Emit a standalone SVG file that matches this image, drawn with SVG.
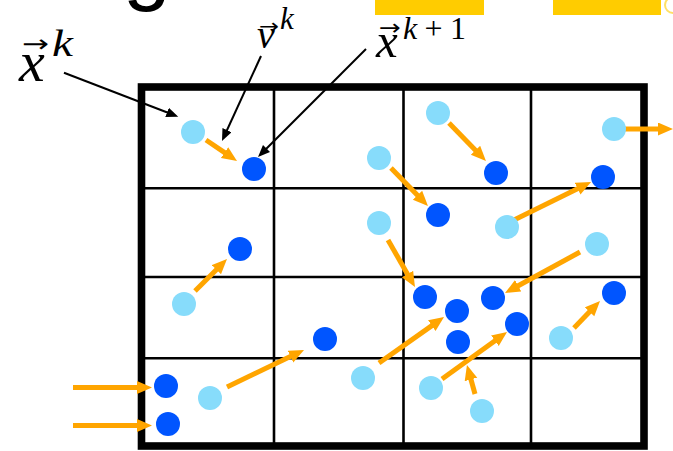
<svg xmlns="http://www.w3.org/2000/svg" width="673" height="451" viewBox="0 0 673 451">
<style>
.lt{fill:#87DCFB}
.dk{fill:#0055FF}
.or{stroke:#FFA500;stroke-width:5;fill:none}
.bk{stroke:#000;stroke-width:2;fill:none}
.grid{stroke:#000;stroke-width:2.6;fill:none}
.math{font-family:"Liberation Serif","DejaVu Serif",serif;font-style:italic;fill:#000}
.up{font-family:"Liberation Serif","DejaVu Serif",serif;font-style:normal;fill:#000}
.vec{font-family:"DejaVu Sans",sans-serif;fill:#000}
</style>
<defs>
<marker id="ho" markerUnits="userSpaceOnUse" markerWidth="16" markerHeight="14" refX="1" refY="6.5" orient="auto">
<path d="M0,0 L15,6.5 L0,13 z" fill="#FFA500"/>
</marker>
<marker id="hb" markerUnits="userSpaceOnUse" markerWidth="13" markerHeight="11" refX="1" refY="5" orient="auto">
<path d="M0,0 L12,5 L0,10 z" fill="#000"/>
</marker>
</defs>
<rect width="673" height="451" fill="#fff"/>
<g id="header">
<text x="123" y="-6" font-family="'Liberation Sans',Arial,sans-serif" font-size="86" fill="#000">g</text>
<rect x="375" y="0" width="109" height="15" fill="#FFCC00"/>
<rect x="553" y="0" width="108" height="15" fill="#FFCC00"/>
<circle cx="673" cy="5" r="8" fill="none" stroke="#FFE066" stroke-width="2"/>
</g>
<g id="grid">
<line class="grid" x1="274" y1="87" x2="274" y2="446"/>
<line class="grid" x1="403.5" y1="87" x2="403.5" y2="446"/>
<line class="grid" x1="531" y1="87" x2="531" y2="446"/>
<line class="grid" x1="141" y1="188.3" x2="644" y2="188.3"/>
<line class="grid" x1="141" y1="277" x2="644" y2="277"/>
<line class="grid" x1="141" y1="358.3" x2="644" y2="358.3"/>
<rect x="141.5" y="87" width="502.5" height="359" fill="none" stroke="#000" stroke-width="7.6"/>
</g>
<g id="labels">
<g id="label-xk">
<text class="math" x="19" y="81" font-size="58">x</text>
<text class="math" x="52" y="56" font-size="37" textLength="21" lengthAdjust="spacingAndGlyphs">k</text>
<text class="vec" x="22" y="52" font-size="24" textLength="27" lengthAdjust="spacingAndGlyphs">→</text>
</g>
<g id="label-vk">
<text class="math" x="257" y="48" font-size="40">v</text>
<text class="math" x="280" y="29" font-size="31">k</text>
<text class="vec" x="259" y="33" font-size="20" textLength="20" lengthAdjust="spacingAndGlyphs">→</text>
</g>
<g id="label-xk1">
<text class="math" x="376" y="57" font-size="49">x</text>
<text x="403" y="39" textLength="63" lengthAdjust="spacing"><tspan class="math" font-size="32">k</tspan><tspan class="up" font-size="32">+1</tspan></text>
<text class="vec" x="379" y="35" font-size="22" textLength="22" lengthAdjust="spacingAndGlyphs">→</text>
</g>
</g>
<g id="connectors">
<path class="bk" d="M64,72.7 L168,112.8" marker-end="url(#hb)"/>
<path class="bk" d="M261,56 L226.6,131" marker-end="url(#hb)"/>
<path class="bk" d="M366,49 L265.8,149.2" marker-end="url(#hb)"/>
<path class="or" d="M206,140 L225.4,153.1" marker-end="url(#ho)"/>
<path class="or" d="M391,168 L418.2,196" marker-end="url(#ho)"/>
<path class="or" d="M388,240 L408,274.9" marker-end="url(#ho)"/>
<path class="or" d="M449,123 L476.2,151" marker-end="url(#ho)"/>
<path class="or" d="M625,129 L659,129" marker-end="url(#ho)"/>
<path class="or" d="M514,220 L578.5,188.2" marker-end="url(#ho)"/>
<path class="or" d="M580,252 L517.3,286.3" marker-end="url(#ho)"/>
<path class="or" d="M195,291 L217.1,268.9" marker-end="url(#ho)"/>
<path class="or" d="M227,387 L291.4,356.1" marker-end="url(#ho)"/>
<path class="or" d="M379,363 L432.6,325.1" marker-end="url(#ho)"/>
<path class="or" d="M442,379 L495.7,340.2" marker-end="url(#ho)"/>
<path class="or" d="M475,394 L470.7,378.5" marker-end="url(#ho)"/>
<path class="or" d="M574,328 L590.3,311.1" marker-end="url(#ho)"/>
<path class="or" d="M73,387.5 L138,387.5" marker-end="url(#ho)"/>
<path class="or" d="M73,425.5 L138,425.5" marker-end="url(#ho)"/>
</g>
<g id="particles">
<g id="p1"><circle class="lt" cx="193" cy="132" r="12"/></g>
<g id="p2"><circle class="lt" cx="379" cy="158" r="12"/></g>
<g id="p3"><circle class="lt" cx="379" cy="223" r="12"/></g>
<g id="p4"><circle class="lt" cx="438" cy="113" r="12"/></g>
<g id="p5"><circle class="lt" cx="614" cy="129" r="12"/></g>
<g id="p6"><circle class="lt" cx="507" cy="227" r="12"/></g>
<g id="p7"><circle class="lt" cx="597" cy="244" r="12"/></g>
<g id="p8"><circle class="lt" cx="184" cy="304" r="12"/></g>
<g id="p9"><circle class="lt" cx="363" cy="378" r="12"/></g>
<g id="p10"><circle class="lt" cx="210" cy="398" r="12"/></g>
<g id="p11"><circle class="lt" cx="561" cy="338" r="12"/></g>
<g id="p12"><circle class="lt" cx="431" cy="388" r="12"/></g>
<g id="p13"><circle class="lt" cx="482" cy="411" r="12"/></g>
<g id="q1"><circle class="dk" cx="254" cy="169" r="12"/></g>
<g id="q2"><circle class="dk" cx="240" cy="249" r="12"/></g>
<g id="q3"><circle class="dk" cx="496" cy="173" r="12"/></g>
<g id="q4"><circle class="dk" cx="603" cy="177" r="12"/></g>
<g id="q5"><circle class="dk" cx="438" cy="215" r="12"/></g>
<g id="q6"><circle class="dk" cx="325" cy="339" r="12"/></g>
<g id="q7"><circle class="dk" cx="166" cy="386" r="12"/></g>
<g id="q8"><circle class="dk" cx="168" cy="424" r="12"/></g>
<g id="q9"><circle class="dk" cx="425" cy="297" r="12"/></g>
<g id="q10"><circle class="dk" cx="457" cy="311" r="12"/></g>
<g id="q11"><circle class="dk" cx="493" cy="298" r="12"/></g>
<g id="q12"><circle class="dk" cx="517" cy="324" r="12"/></g>
<g id="q13"><circle class="dk" cx="458" cy="342" r="12"/></g>
<g id="q14"><circle class="dk" cx="614" cy="293" r="12"/></g>
</g>
</svg>
